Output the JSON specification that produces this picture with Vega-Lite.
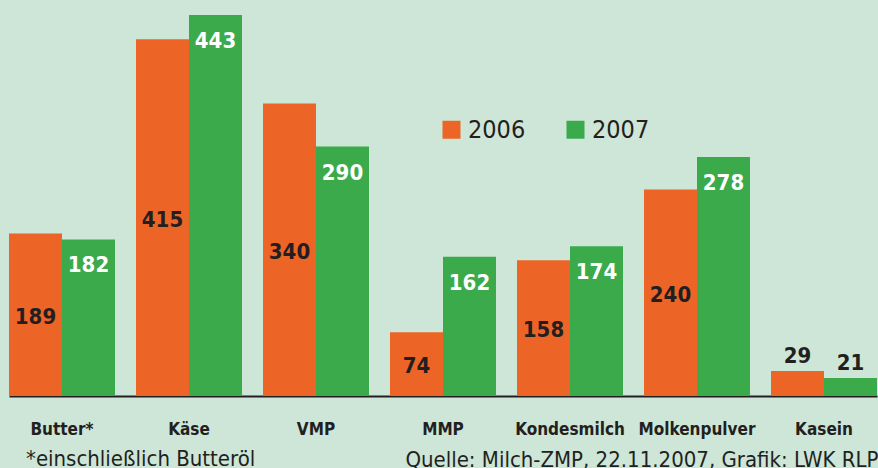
{
  "$schema": "https://vega.github.io/schema/vega-lite/v6.json",
  "width": 878,
  "height": 396,
  "autosize": {"type": "none"},
  "padding": {"left": 0, "top": 0, "right": 0, "bottom": 72},
  "background": "#cde6d7",
  "config": {"view": {"stroke": null}},
  "title": {"text": "*einschließlich Butteröl", "orient": "bottom", "anchor": "start", "font": "DejaVu Sans Condensed", "fontSize": 22, "fontWeight": "normal", "color": "#231f20", "baseline": "alphabetic", "offset": -4, "dx": 26},
  "data": {"values": [
    {"cat": "Butter*", "year": "2006", "value": 189},
    {"cat": "Butter*", "year": "2007", "value": 182},
    {"cat": "Käse", "year": "2006", "value": 415},
    {"cat": "Käse", "year": "2007", "value": 443},
    {"cat": "VMP", "year": "2006", "value": 340},
    {"cat": "VMP", "year": "2007", "value": 290},
    {"cat": "MMP", "year": "2006", "value": 74},
    {"cat": "MMP", "year": "2007", "value": 162},
    {"cat": "Kondesmilch", "year": "2006", "value": 158},
    {"cat": "Kondesmilch", "year": "2007", "value": 174},
    {"cat": "Molkenpulver", "year": "2006", "value": 240},
    {"cat": "Molkenpulver", "year": "2007", "value": 278},
    {"cat": "Kasein", "year": "2006", "value": 29},
    {"cat": "Kasein", "year": "2007", "value": 21}
  ]},
  "encoding": {
    "x": {"field": "cat", "type": "nominal", "sort": null,
      "scale": {"range": [9, 877], "paddingInner": 0.1654, "paddingOuter": 0},
      "axis": {"title": "Quelle: Milch-ZMP, 22.11.2007, Grafik: LWK RLP", "titleX": 878, "titleY": 70, "titleAlign": "right", "titleAnchor": "end", "titleBaseline": "alphabetic", "titleFont": "DejaVu Sans Condensed", "titleFontSize": 22, "titleFontWeight": "normal", "titleColor": "#231f20",
        "domain": true, "domainColor": "#231f20", "domainWidth": 2, "ticks": false, "labelAngle": 0,
        "labelFont": "DejaVu Sans Condensed", "labelFontSize": 17, "labelFontWeight": "bold", "labelColor": "#231f20", "labelBaseline": "alphabetic", "labelPadding": 38, "labelOverlap": false, "labelBound": false, "labelFlush": false}},
    "xOffset": {"field": "year", "type": "nominal", "scale": {"paddingInner": 0, "paddingOuter": 0}},
    "y": {"field": "value", "type": "quantitative", "scale": {"domain": [0, 460.5], "nice": false}, "axis": null}
  },
  "layer": [
    {"mark": {"type": "bar"},
     "encoding": {"color": {"field": "year", "type": "nominal", "scale": {"domain": ["2006", "2007"], "range": ["#ec6426", "#3aaa4b"]},
       "legend": {"title": null, "orient": "none", "legendX": 439, "legendY": 117, "direction": "horizontal", "symbolType": "square", "symbolSize": 324, "symbolStrokeWidth": 0, "symbolOpacity": 1, "labelFont": "DejaVu Sans Condensed", "labelFontSize": 25, "labelColor": "#231f20", "labelOffset": 4, "columnPadding": 37, "padding": 0}}}},
    {"transform": [{"filter": "datum.year == '2006' && datum.value >= 50"}, {"calculate": "datum.value / 2", "as": "mid"}],
     "mark": {"type": "text", "font": "DejaVu Sans Condensed", "fontSize": 22, "fontWeight": "bold", "color": "#231f20", "baseline": "alphabetic", "dy": 9},
     "encoding": {"y": {"field": "mid", "type": "quantitative"}, "text": {"field": "value"}}},
    {"transform": [{"filter": "datum.year == '2007' && datum.value >= 50"}],
     "mark": {"type": "text", "font": "DejaVu Sans Condensed", "fontSize": 22, "fontWeight": "bold", "color": "#ffffff", "baseline": "alphabetic", "dy": 33},
     "encoding": {"text": {"field": "value"}}},
    {"transform": [{"filter": "datum.value < 50"}],
     "mark": {"type": "text", "font": "DejaVu Sans Condensed", "fontSize": 22, "fontWeight": "bold", "color": "#231f20", "baseline": "alphabetic", "dy": -8},
     "encoding": {"text": {"field": "value"}}}
  ]
}
